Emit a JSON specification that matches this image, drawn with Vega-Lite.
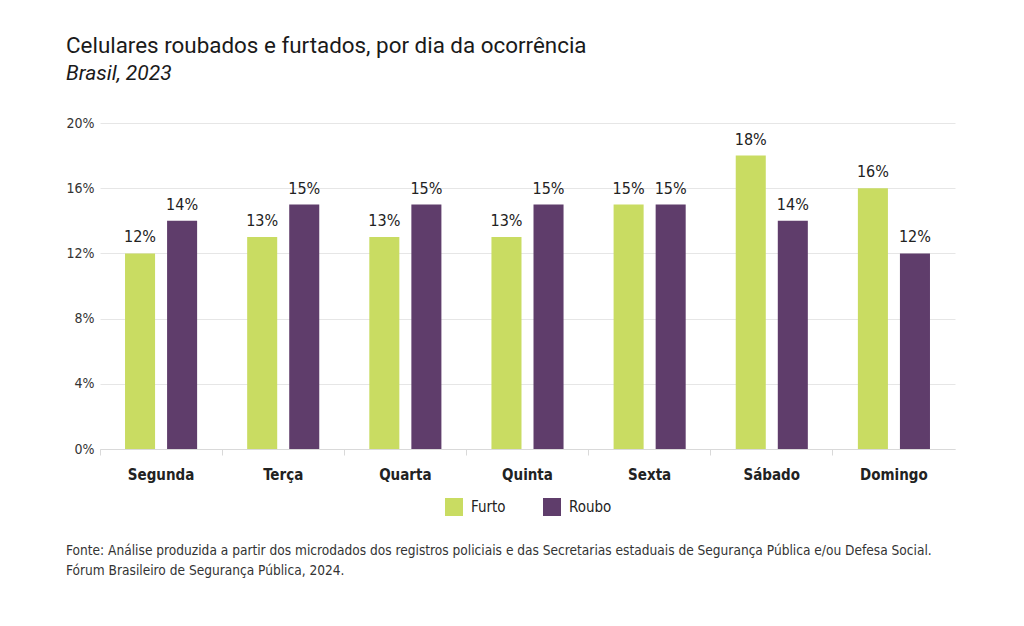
{
  "$schema": "https://vega.github.io/schema/vega-lite/v6.json",
  "background": "white",
  "padding": {"left": 66, "top": 34, "right": 40, "bottom": 20},
  "title": {
    "text": ["Fonte: Análise produzida a partir dos microdados dos registros policiais e das Secretarias estaduais de Segurança Pública e/ou Defesa Social.", "Fórum Brasileiro de Segurança Pública, 2024."],
    "orient": "bottom",
    "anchor": "start",
    "frame": "bounds",
    "font": "'DejaVu Sans Condensed', 'Roboto Condensed', Roboto",
    "fontSize": 13.6,
    "fontWeight": "normal",
    "color": "#333333",
    "lineHeight": 20,
    "offset": 28
  },
  "vconcat": [
    {
      "title": {
        "text": "Celulares roubados e furtados, por dia da ocorrência",
        "subtitle": "Brasil, 2023",
        "anchor": "start",
        "frame": "bounds",
        "font": "Roboto",
        "fontSize": 22.4,
        "fontWeight": "normal",
        "color": "#1a1a1a",
        "subtitleFont": "Roboto",
        "subtitleFontSize": 21,
        "subtitleFontStyle": "italic",
        "subtitleColor": "#1a1a1a",
        "subtitlePadding": 6,
        "offset": 32
      },
      "width": 855,
      "height": 326,
      "data": {
        "values": [
          {"dia": "Segunda", "tipo": "Furto", "valor": 0.12},
          {"dia": "Segunda", "tipo": "Roubo", "valor": 0.14},
          {"dia": "Terça", "tipo": "Furto", "valor": 0.13},
          {"dia": "Terça", "tipo": "Roubo", "valor": 0.15},
          {"dia": "Quarta", "tipo": "Furto", "valor": 0.13},
          {"dia": "Quarta", "tipo": "Roubo", "valor": 0.15},
          {"dia": "Quinta", "tipo": "Furto", "valor": 0.13},
          {"dia": "Quinta", "tipo": "Roubo", "valor": 0.15},
          {"dia": "Sexta", "tipo": "Furto", "valor": 0.15},
          {"dia": "Sexta", "tipo": "Roubo", "valor": 0.15},
          {"dia": "Sábado", "tipo": "Furto", "valor": 0.18},
          {"dia": "Sábado", "tipo": "Roubo", "valor": 0.14},
          {"dia": "Domingo", "tipo": "Furto", "valor": 0.16},
          {"dia": "Domingo", "tipo": "Roubo", "valor": 0.12}
        ]
      },
      "encoding": {
        "x": {
          "field": "dia",
          "type": "nominal",
          "sort": ["Segunda", "Terça", "Quarta", "Quinta", "Sexta", "Sábado", "Domingo"],
          "scale": {"paddingInner": 0, "paddingOuter": 0},
          "axis": {
            "title": null,
            "labelAngle": 0,
            "bandPosition": 0,
            "domainColor": "#d9d9d9",
            "tickColor": "#d9d9d9",
            "tickSize": 6,
            "labelFont": "'DejaVu Sans Condensed', 'Roboto Condensed', Roboto",
            "labelFontSize": 15,
            "labelFontWeight": "bold",
            "labelColor": "#222222",
            "labelPadding": 12,
            "grid": false
          }
        },
        "xOffset": {
          "field": "tipo",
          "type": "nominal",
          "sort": ["Furto", "Roubo"],
          "scale": {"paddingInner": 0.2857, "paddingOuter": 0.595}
        },
        "y": {
          "field": "valor",
          "type": "quantitative",
          "scale": {"domain": [0, 0.2]},
          "axis": {
            "title": null,
            "values": [0, 0.04, 0.08, 0.12, 0.16, 0.2],
            "format": ".0%",
            "domain": false,
            "ticks": false,
            "gridColor": "#e6e6e6",
            "labelFont": "'DejaVu Sans Condensed', 'Roboto Condensed', Roboto",
            "labelFontSize": 14,
            "labelColor": "#333333",
            "labelPadding": 6
          }
        },
        "color": {
          "field": "tipo",
          "type": "nominal",
          "sort": ["Furto", "Roubo"],
          "scale": {"domain": ["Furto", "Roubo"], "range": ["#c9dc62", "#5f3d6b"]},
          "legend": {
            "title": null,
            "orient": "none",
            "legendX": 345,
            "legendY": 375,
            "direction": "horizontal",
            "symbolType": "square",
            "symbolSize": 324,
            "symbolStrokeWidth": 0,
            "labelFont": "'DejaVu Sans Condensed', 'Roboto Condensed', Roboto",
            "labelFontSize": 15,
            "labelColor": "#222222",
            "columnPadding": 37,
            "labelOffset": 8
          }
        }
      },
      "layer": [
        {"mark": {"type": "bar"}},
        {
          "mark": {"type": "text", "dy": -8, "baseline": "bottom", "font": "'DejaVu Sans Condensed', 'Roboto Condensed', Roboto", "fontSize": 16, "color": "#222222"},
          "encoding": {
            "text": {"field": "valor", "type": "quantitative", "format": ".0%"},
            "color": {"value": "#222222"}
          }
        }
      ]
    }
  ],
  "config": {"view": {"stroke": null}}
}
